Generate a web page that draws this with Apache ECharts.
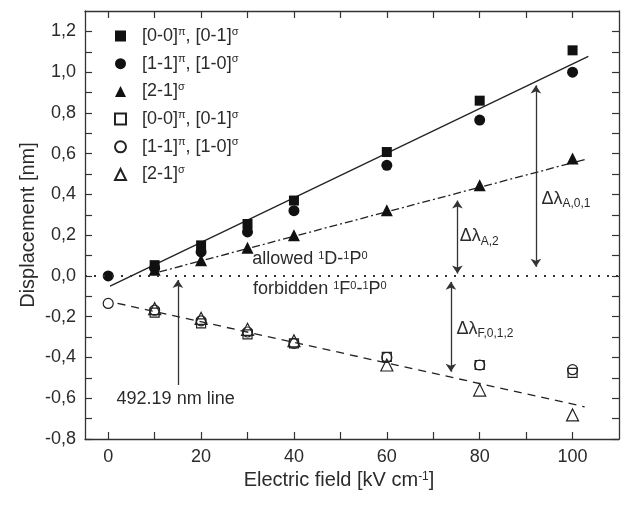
<!DOCTYPE html>
<html>
<head>
<meta charset="utf-8">
<script src="https://cdn.jsdelivr.net/npm/echarts@6/dist/echarts.min.js"></script>
<style>
  html, body { margin: 0; padding: 0; background: #fff; }
  #chart { width: 624px; height: 506px; }
</style>
</head>
<body>
<div id="chart"></div>
<script>
  const font = 'Liberation Sans, Arial, sans-serif'
  const ink = '#2b2b2b'

  // electric field, kV/cm
  const field = [0, 10, 20, 30, 40, 60, 80, 100]
  // allowed 1D-1P0 (filled symbols)
  const sqAllowed = [null, 0.053, 0.15, 0.255, 0.37, 0.608, 0.86, 1.107]
  const ciAllowed = [0, 0.038, 0.118, 0.216, 0.32, 0.543, 0.765, 1.0]
  const trAllowed = [null, 0.03, 0.077, 0.138, 0.2, 0.322, 0.445, 0.576]
  // forbidden 1F0-1P0 (open symbols)
  const sqForbidden = [null, -0.18, -0.233, -0.287, -0.331, -0.397, -0.437, -0.476]
  const ciForbidden = [-0.135, -0.168, -0.22, -0.275, -0.331, -0.40, -0.437, -0.46]
  const trForbidden = [null, -0.16, -0.208, -0.262, -0.318, -0.437, -0.56, -0.682]

  // linear fits, [field, displacement] end points
  const fitAllowed01 = [[0.4, -0.05], [103.4, 1.077]]
  const fitAllowed2 = [[11, 0.02], [102.6, 0.571]]
  const fitForbidden = [[2, -0.134], [102.6, -0.642]]

  // ticks
  const xLabelValues = [0, 20, 40, 60, 80, 100]
  const xTickValues = [0, 10, 20, 30, 40, 50, 60, 70, 80, 90, 100]
  const yLabelValues = [-0.8, -0.6, -0.4, -0.2, 0, 0.2, 0.4, 0.6, 0.8, 1.0, 1.2]
  const yTickValues = [-0.8, -0.7, -0.6, -0.5, -0.4, -0.3, -0.2, -0.1, 0, 0.1, 0.2, 0.3, 0.4, 0.5, 0.6, 0.7, 0.8, 0.9, 1.0, 1.1, 1.2]

  const legendText = {
    sqA: '[0-0]{sup|π}, [0-1]{sup|σ}',
    ciA: '[1-1]{sup|π}, [1-0]{sup|σ}',
    trA: '[2-1]{sup|σ}',
    sqF: '[0-0]{sup|π}, [0-1]{sup|σ}',
    ciF: '[1-1]{sup|π}, [1-0]{sup|σ}',
    trF: '[2-1]{sup|σ}'
  }

  const pairs = (ys)=> field.map((x, i)=> [x, ys[i]]).filter(p=> p[1] !== null)

  const rich = {
    t: { fontSize: 18, fontFamily: font, color: ink, lineHeight: 20, verticalAlign: 'top' },
    sup: { fontSize: 11, fontFamily: font, color: ink, lineHeight: 11, verticalAlign: 'top' },
    sub: { fontSize: 12, fontFamily: font, color: ink, lineHeight: 12, verticalAlign: 'bottom', padding: [13, 0, 0, 0] },
    gap: { width: 11, fontSize: 18, lineHeight: 20 }
  }

  const axisLine = { show: true, onZero: false, lineStyle: { color: '#333', width: 1.3 } }
  const tick = (vals)=> ({ show: true, inside: true, length: 7, customValues: vals, lineStyle: { color: '#333', width: 1.2 } })

  const filled = (name, symbol, size, ys)=> ({
    name, type: 'scatter', symbol, symbolSize: size, data: pairs(ys),
    itemStyle: { color: '#111', opacity: 1 }, z: 3
  })
  const open = (name, symbol, size, ys)=> ({
    name, type: 'scatter', symbol, symbolSize: size, data: pairs(ys),
    itemStyle: { color: 'rgba(255,255,255,0)', borderColor: '#222', borderWidth: 1.2, opacity: 1 }, z: 3
  })
  const fit = (data, type)=> ({
    type: 'line', data, symbol: 'none', silent: true,
    lineStyle: { color: '#222', width: 1.3, type }, z: 2
  })

  const arrow = (x, y1, y2, both)=> [
    { coord: [x, y1], symbol: 'arrow' },
    { coord: [x, y2], symbol: both ? 'arrow' : 'none' }
  ]

  const chart = echarts.init(document.getElementById('chart'))
  chart.setOption({
    animation: false,
    grid: { left: 85, right: 5, top: 11, bottom: 67, containLabel: false, outerBoundsMode: 'none' },
    legend: {
      orient: 'vertical', left: 109, top: 21,
      itemWidth: 11, itemHeight: 11, itemGap: 7.7,
      textStyle: { fontSize: 18, fontFamily: font, color: ink, lineHeight: 20, rich },
      formatter: (n)=> '{gap| }' + legendText[n],
      data: ['sqA', 'ciA', 'trA', 'sqF', 'ciF', 'trF'],
      selectedMode: false
    },
    xAxis: [
      {
        type: 'value', min: -5, max: 110, position: 'bottom',
        axisLine, axisTick: tick(xTickValues), splitLine: { show: false },
        axisLabel: { customValues: xLabelValues, fontSize: 18, fontFamily: font, color: ink, margin: 9 },
        name: 'Electric field [kV cm{sup|-1}]', nameLocation: 'middle', nameGap: 31,
        nameTextStyle: { fontSize: 20, fontFamily: font, color: ink, padding: [0, 26, 0, 0],
          rich: { sup: { fontSize: 12, fontFamily: font, color: ink, lineHeight: 12, verticalAlign: 'top' } } }
      },
      {
        type: 'value', min: -5, max: 110, position: 'top',
        axisLine, axisTick: tick(xTickValues), splitLine: { show: false }, axisLabel: { show: false }
      }
    ],
    yAxis: [
      {
        type: 'value', min: -0.8, max: 1.3, position: 'left',
        axisLine, axisTick: tick(yTickValues), splitLine: { show: false },
        axisLabel: { customValues: yLabelValues, fontSize: 18, fontFamily: font, color: ink, margin: 9,
          formatter: (v)=> v.toFixed(1).replace('.', ',') },
        name: 'Displacement [nm]', nameLocation: 'middle', nameGap: 47, nameMoveOverlap: false,
        nameTextStyle: { fontSize: 20, fontFamily: font, color: ink }
      },
      {
        type: 'value', min: -0.8, max: 1.3, position: 'right',
        axisLine, axisTick: tick(yTickValues), splitLine: { show: false }, axisLabel: { show: false }
      }
    ],
    series: [
      Object.assign(fit(fitAllowed01, 'solid'), {
        markLine: {
          silent: true, symbol: ['none', 'none'], label: { show: false },
          lineStyle: { color: '#333', width: 2, type: [2, 7] },
          data: [{ yAxis: 0 }]
        }
      }),
      Object.assign(fit(fitAllowed2, [8, 3, 2, 3]), {
        markLine: {
          silent: true, symbolSize: 8, label: { show: false },
          lineStyle: { color: '#333', width: 1.3, type: 'solid' },
          data: [
            arrow(15, -0.02, -0.535, false),
            arrow(75.2, 0.37, 0.012, true),
            arrow(73.8, -0.029, -0.47, true),
            arrow(92.1, 0.935, 0.045, true)
          ]
        }
      }),
      Object.assign(fit(fitForbidden, [8, 6]), {
        markPoint: {
          silent: true, symbol: 'circle', symbolSize: 0,
          label: { show: true, position: 'right', distance: 0, rich },
          data: [
            { coord: [31.0, 0.077], label: { formatter: '{t|allowed }{sup|1}{t|D-}{sup|1}{t|P}{sup|0}' } },
            { coord: [31.2, -0.07], label: { formatter: '{t|forbidden }{sup|1}{t|F}{sup|0}{t|-}{sup|1}{t|P}{sup|0}' } },
            { coord: [1.8, -0.61], label: { formatter: '{t|492.19 nm line}' } },
            { coord: [75.7, 0.19], label: { formatter: '{t|Δλ}{sub|A,2}' } },
            { coord: [75.0, -0.266], label: { formatter: '{t|Δλ}{sub|F,0,1,2}' } },
            { coord: [93.3, 0.372], label: { formatter: '{t|Δλ}{sub|A,0,1}' } }
          ]
        }
      }),
      filled('sqA', 'rect', 10, sqAllowed),
      filled('ciA', 'circle', 11, ciAllowed),
      filled('trA', 'triangle', 12, trAllowed),
      open('sqF', 'rect', 9, sqForbidden),
      open('ciF', 'circle', 10, ciForbidden),
      open('trF', 'triangle', 12, trForbidden)
    ]
  })
</script>
</body>
</html>
